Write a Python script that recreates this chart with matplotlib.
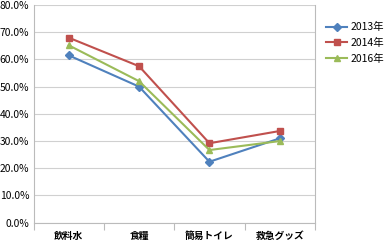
import matplotlib
matplotlib.use("Agg")
import matplotlib.pyplot as plt
from matplotlib.ticker import FixedLocator, PercentFormatter

plt.rcParams['font.family'] = ['Noto Sans CJK JP', 'DejaVu Sans']

categories = ["飲料水", "食糧", "簡易トイレ", "救急グッズ"]
s2013 = [61.5, 50.0, 22.4, 31.0]
s2014 = [68.0, 57.5, 29.2, 33.7]
s2016 = [65.2, 52.0, 26.7, 30.0]
series_names = ["2013年", "2014年", "2016年"]
yticks = [0, 10, 20, 30, 40, 50, 60, 70, 80]

fig = plt.figure(figsize=(3.84, 2.4), dpi=100)
ax = fig.add_axes([33.5/384, (240-222.7)/240, (315-33.5)/384, (222.7-5)/240])

x = list(range(len(categories)))
ax.plot(x, s2013, color='#4F81BD', marker='D', markersize=4.5, lw=1.5, label=series_names[0])
ax.plot(x, s2014, color='#C0504D', marker='s', markersize=4.5, lw=1.5, label=series_names[1])
ax.plot(x, s2016, color='#9BBB59', marker='^', markersize=5, lw=1.5, label=series_names[2])

ax.set_xlim(-0.5, 3.5)
ax.set_ylim(0, 80)
ax.set_yticks(yticks)
ax.yaxis.set_major_formatter(PercentFormatter(decimals=1))
ax.set_xticks(x)
ax.set_xticklabels(categories, fontsize=7, fontweight='bold')
ax.xaxis.set_minor_locator(FixedLocator([-0.5, 0.5, 1.5, 2.5, 3.5]))
ax.tick_params(axis='x', which='major', length=0, pad=6)
ax.tick_params(axis='x', which='minor', length=5, color='#BBBBBB', width=0.8)
ax.tick_params(axis='y', length=0, labelsize=7.4, pad=3)
ax.grid(axis='y', color='#D0D0D0', lw=0.8)
ax.set_axisbelow(True)
for s in ['top']:
    ax.spines[s].set_visible(False)
for s in ['left', 'bottom', 'right']:
    ax.spines[s].set_color('#BBBBBB')
    ax.spines[s].set_linewidth(0.8)

ax.legend(loc='upper left', bbox_to_anchor=(322/384, 222/240), bbox_transform=fig.transFigure,
          frameon=False, fontsize=7.5, handlelength=2.0, labelspacing=0.55, handletextpad=0.3,
          borderaxespad=0)

fig.savefig("out.png", dpi=100)
